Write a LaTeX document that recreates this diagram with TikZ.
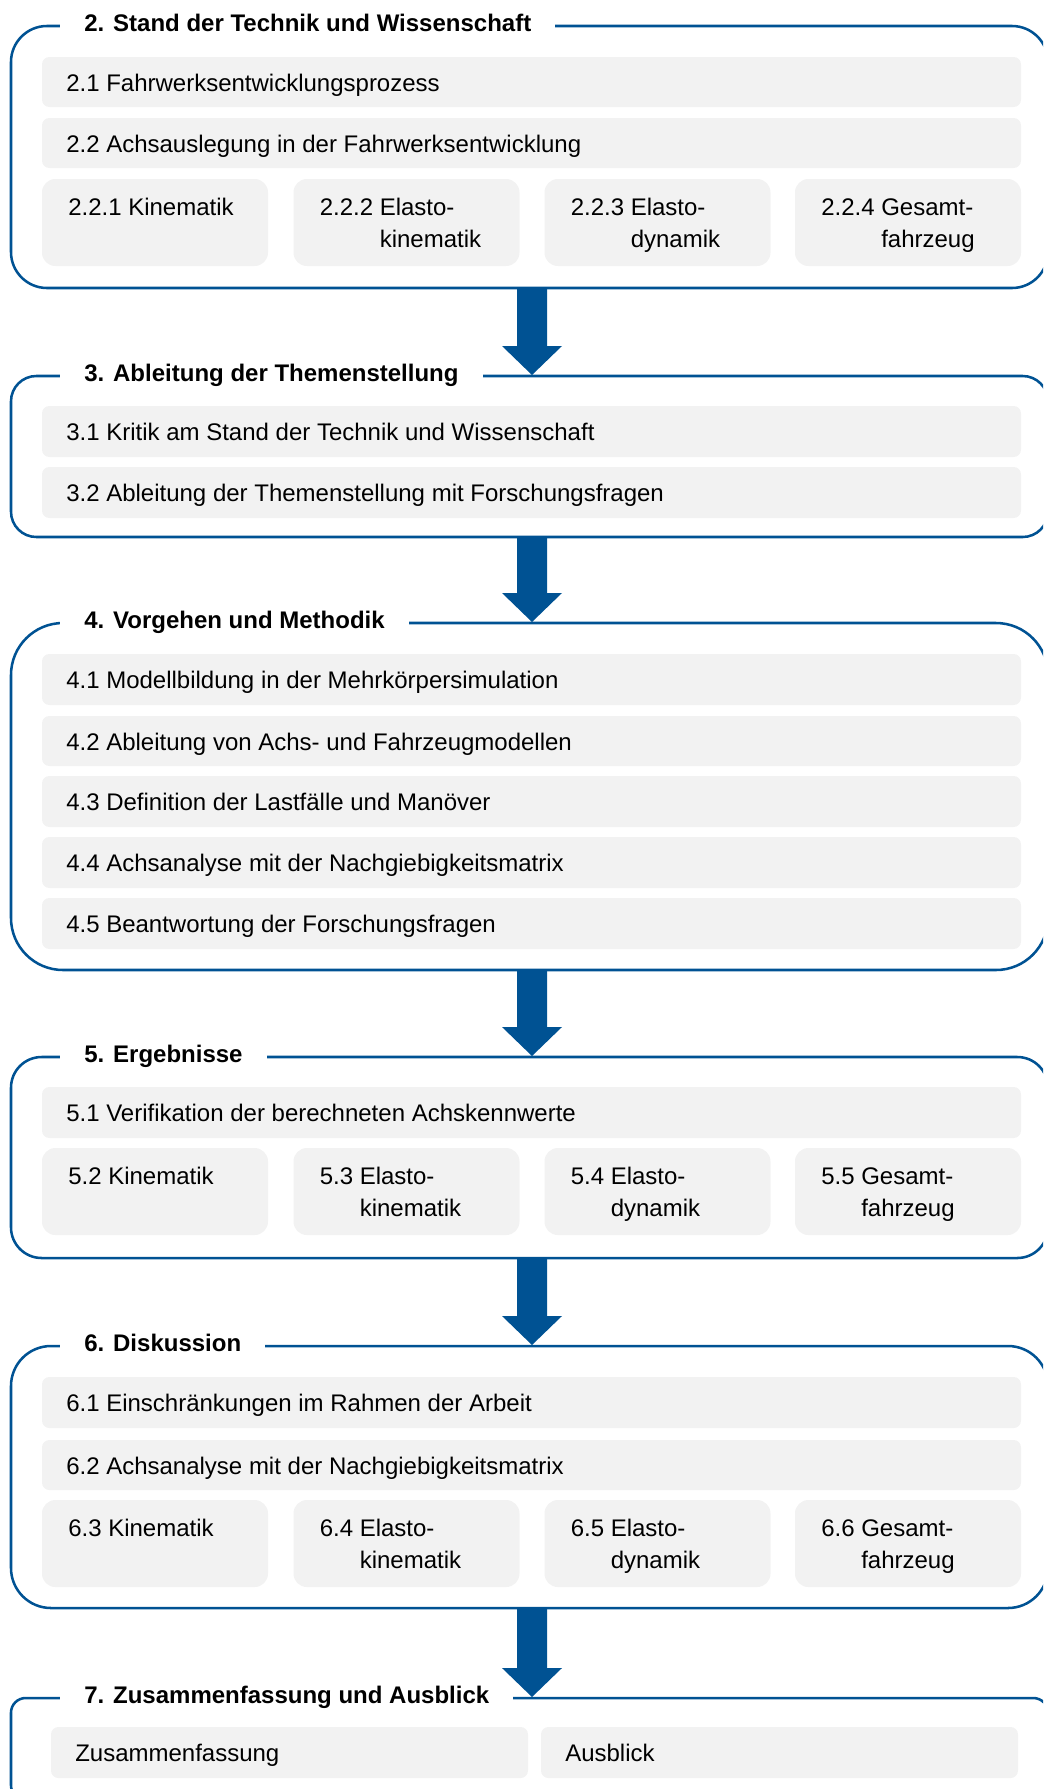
\documentclass[tikz,border=0pt]{standalone}
\usepackage{fontspec}
\setmainfont{Liberation Sans}
\usetikzlibrary{calc,fit}

\definecolor{chapterblue}{RGB}{0,82,147}
\definecolor{cellgray}{RGB}{242,242,242}

\tikzset{
  chapterframe/.style={draw=chapterblue, line width=1.9pt, inner sep=0pt, outer sep=0pt},
  chaptertitle/.style={fill=white, inner xsep=18pt, inner ysep=3pt, anchor=base west,
    font=\fontsize{18}{21.6}\selectfont\bfseries},
  bandbox/.style={fill=cellgray, rounded corners=5.5pt, inner sep=0pt, outer sep=0pt},
  cellbox/.style={fill=cellgray, rounded corners=10pt, inner sep=0pt, outer sep=0pt},
  itemtext/.style={inner sep=0pt, anchor=base west, font=\fontsize{18}{21.6}\selectfont},
  flowarrow/.style={fill=chapterblue},
}

% full-width entry: name, x1, y1, x2, y2, text
\newcommand\bandrow[6]{%
  \node[bandbox, fit={(#2,#3) (#4,#5)}] (#1) {};
  \node[itemtext] (#1t) at ($(#1.west)+(24,9)$) {#6};
}
% quarter-width entry with one line: name, x, y, text
\newcommand\onecell[4]{%
  \node[cellbox, fit={(#2,#3) (#2+226,#3+87)}] (#1) {};
  \node[itemtext] (#1t) at ($(#1.north west)+(26,36)$) {#4};
}
% quarter-width entry with two lines: name, x, y, line 1, line 2, indent of line 2
\newcommand\twocell[6]{%
  \onecell{#1}{#2}{#3}{#4}
  \node[itemtext] (#1u) at ($(#1.north west)+(#6,68)$) {#5};
}
% block arrow from one chapter frame to the next: name, upper frame, lower frame
\newcommand\flowstep[3]{%
  \coordinate (#1s) at ($(#2.south)+(2.5,0)$);
  \coordinate (#1t) at ($(#3.north)+(2.5,-1)$);
  \fill[flowarrow] ($(#1s)+(-15,0)$) -- ($(#1s)+(15,0)$) -- ($(#1t)+(15,-29)$)
    -- ($(#1t)+(30,-29)$) -- (#1t) -- ($(#1t)+(-30,-29)$) -- ($(#1t)+(-15,-29)$) -- cycle;
}

\begin{document}
\begin{tikzpicture}[x=0.75pt,y=-0.75pt]
\useasboundingbox (0,0) rectangle (1043,1789);
\clip (0,0) rectangle (1043,1789);

% ---------- chapter frames and headings ----------
\node[chapterframe, rounded corners=27pt, fit={(11,26) (1048,288)}] (f2) {};
\node[chaptertitle] (h2) at (60,31) {2. Stand der Technik und Wissenschaft};

\node[chapterframe, rounded corners=19pt, fit={(11,376) (1048,537)}] (f3) {};
\node[chaptertitle] (h3) at (60,381) {3. Ableitung der Themenstellung};

\node[chapterframe, rounded corners=39pt, fit={(11,623) (1048,970)}] (f4) {};
\node[chaptertitle] (h4) at (60,628) {4. Vorgehen und Methodik};

\node[chapterframe, rounded corners=23pt, fit={(11,1057) (1048,1258)}] (f5) {};
\node[chaptertitle] (h5) at (60,1062) {5. Ergebnisse};

\node[chapterframe, rounded corners=30pt, fit={(11,1346) (1048,1608)}] (f6) {};
\node[chaptertitle] (h6) at (60,1351) {6. Diskussion};

\node[chapterframe, rounded corners=11pt, fit={(11,1698) (1048,1800)}] (f7) {};
\node[chaptertitle] (h7) at (60,1703) {7. Zusammenfassung und Ausblick};

% ---------- chapter 2 ----------
\bandrow{b21}{42}{57}{1021}{107}{2.1 Fahrwerksentwicklungsprozess}
\bandrow{b22}{42}{118}{1021}{168}{2.2 Achsauslegung in der Fahrwerksentwicklung}
\onecell{c221}{42}{179}{2.2.1 Kinematik}
\twocell{c222}{293.5}{179}{2.2.2 Elasto-}{kinematik}{86}
\twocell{c223}{544.5}{179}{2.2.3 Elasto-}{dynamik}{86}
\twocell{c224}{795}{179}{2.2.4 Gesamt-}{fahrzeug}{86}

% ---------- chapter 3 ----------
\bandrow{b31}{42}{406}{1021}{457}{3.1 Kritik am Stand der Technik und Wissenschaft}
\bandrow{b32}{42}{467}{1021}{518}{3.2 Ableitung der Themenstellung mit Forschungsfragen}

% ---------- chapter 4 ----------
\bandrow{b41}{42}{654}{1021}{705}{4.1 Modellbildung in der Mehrkörpersimulation}
\bandrow{b42}{42}{716}{1021}{766}{4.2 Ableitung von Achs- und Fahrzeugmodellen}
\bandrow{b43}{42}{776}{1021}{827}{4.3 Definition der Lastfälle und Manöver}
\bandrow{b44}{42}{837}{1021}{888}{4.4 Achsanalyse mit der Nachgiebigkeitsmatrix}
\bandrow{b45}{42}{898}{1021}{949}{4.5 Beantwortung der Forschungsfragen}

% ---------- chapter 5 ----------
\bandrow{b51}{42}{1087}{1021}{1138}{5.1 Verifikation der berechneten Achskennwerte}
\onecell{c52}{42}{1148}{5.2 Kinematik}
\twocell{c53}{293.5}{1148}{5.3 Elasto-}{kinematik}{66}
\twocell{c54}{544.5}{1148}{5.4 Elasto-}{dynamik}{66}
\twocell{c55}{795}{1148}{5.5 Gesamt-}{fahrzeug}{66}

% ---------- chapter 6 ----------
\bandrow{b61}{42}{1377}{1021}{1428}{6.1 Einschränkungen im Rahmen der Arbeit}
\bandrow{b62}{42}{1440}{1021}{1490}{6.2 Achsanalyse mit der Nachgiebigkeitsmatrix}
\onecell{c63}{42}{1500}{6.3 Kinematik}
\twocell{c64}{293.5}{1500}{6.4 Elasto-}{kinematik}{66}
\twocell{c65}{544.5}{1500}{6.5 Elasto-}{dynamik}{66}
\twocell{c66}{795}{1500}{6.6 Gesamt-}{fahrzeug}{66}

% ---------- chapter 7 ----------
\bandrow{b71}{51}{1727}{528}{1778}{Zusammenfassung}
\bandrow{b72}{541}{1727}{1018}{1778}{Ausblick}

% ---------- flow arrows between chapters ----------
\flowstep{a23}{f2}{f3}
\flowstep{a34}{f3}{f4}
\flowstep{a45}{f4}{f5}
\flowstep{a56}{f5}{f6}
\flowstep{a67}{f6}{f7}
\end{tikzpicture}
\end{document}
